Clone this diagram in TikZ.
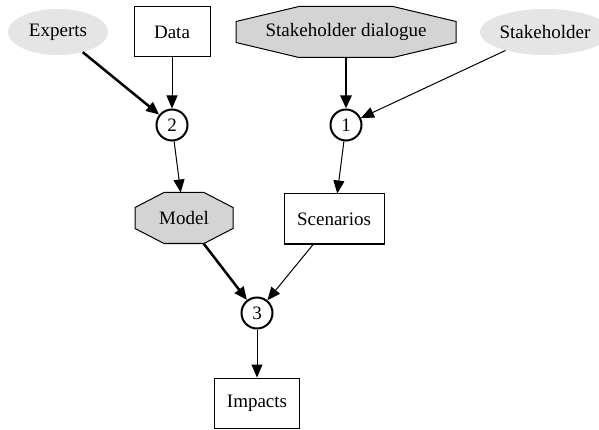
\documentclass[tikz,border=0pt]{standalone}
\usepackage{fontspec}
\setmainfont{Liberation Serif}
\usepackage{tikz}
\usetikzlibrary{positioning,arrows.meta,shapes.geometric,backgrounds}

% octagon drawn behind a named node: name, x cut, y cut
\newcommand{\octo}[3]{%
  \begin{scope}[on background layer]
    \filldraw[draw=black, fill=black!17, line width=1pt]
      ([xshift=#2]#1.north west) -- ([xshift=-#2]#1.north east)
      -- ([yshift=-#3]#1.north east) -- ([yshift=#3]#1.south east)
      -- ([xshift=-#2]#1.south east) -- ([xshift=#2]#1.south west)
      -- ([yshift=#3]#1.south west) -- ([yshift=-#3]#1.north west) -- cycle;
  \end{scope}}

\begin{document}
\begin{tikzpicture}[
  >={Triangle[length=13pt,width=11pt]},
  on grid,
  font=\fontsize{19pt}{22pt}\selectfont,
  actor/.style={ellipse, fill=black!10, minimum width=100pt, minimum height=46pt, inner sep=0pt},
  item/.style={rectangle, draw=black, line width=1pt, minimum height=50pt, inner xsep=9pt},
  proc/.style={rectangle, minimum height=50pt, inner sep=0pt, outer sep=0.5pt},
  junc/.style={circle, draw=black, line width=2pt, minimum size=31pt, inner sep=0pt},
  thin/.style={->, line width=1pt},
  heavy/.style={->, line width=2.5pt}
]
\useasboundingbox (0pt,0pt) rectangle (599pt,-430pt);
\node[item, minimum width=76pt] (data) at (172pt,-32pt) {Data};
\node[actor, left=114pt of data] (experts) {Experts};
\node[proc, right=174pt of data, minimum width=219pt] (dialogue) {Stakeholder dialogue};
\node[actor, right=199pt of dialogue, minimum width=130pt] (stake) {Stakeholder};
\node[junc, below=93pt of data] (j2) {2};
\node[junc, below=93pt of dialogue] (j1) {1};
\node[proc, below right=93pt and 12pt of j2, minimum width=97pt] (model) {Model};
\node[item, below left=94pt and 12pt of j1, minimum width=100pt] (scen) {Scenarios};
\node[junc, below right=95pt and 73pt of model] (j3) {3};
\node[item, below=90pt of j3, minimum width=85pt] (impacts) {Impacts};
\octo{dialogue}{63pt}{15pt}
\octo{model}{29pt}{15pt}
\draw[heavy] (experts) -- (j2);
\draw[thin] (data) -- (j2);
\draw[heavy] (dialogue) -- (j1);
\draw[thin] (stake) -- (j1);
\draw[thin] (j2) -- (model);
\draw[thin] (j1) -- (scen);
\draw[heavy] (model) -- (j3);
\draw[thin] (scen) -- (j3);
\draw[thin] (j3) -- (impacts);
\end{tikzpicture}
\end{document}
